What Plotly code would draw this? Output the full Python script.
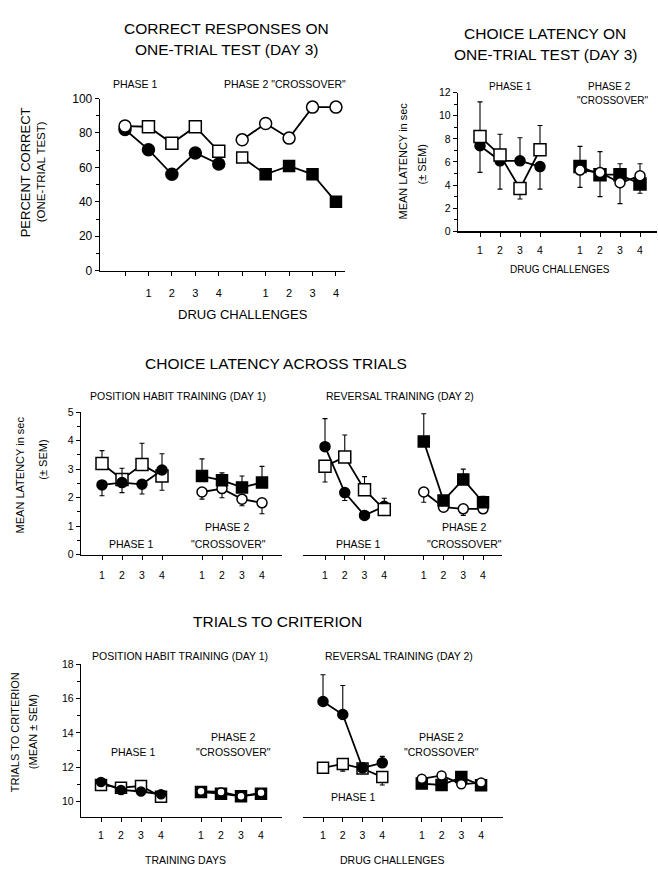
import plotly.graph_objects as go

W, H = 658, 874
FONT = "Liberation Sans, Arial, sans-serif"

# ---------------- DATA ----------------
# Panel A: correct responses on one-trial test (%) ; position 0 / 5 = pre-drug baseline
A_X1 = [0, 1, 2, 3, 4]
A_X2 = [5, 6, 7, 8, 9]
A_P1_SQUARE = [84, 83.6, 74, 83.6, 69.3]
A_P1_CIRCLE = [82, 70.3, 56, 68.4, 62]
A_P2_CIRCLE = [76, 85.5, 77, 95, 95]
A_P2_SQUARE = [65.7, 56, 60.8, 56, 40]
A_TICKVALS = [0, 1, 2, 3, 4, 5, 6, 7, 8, 9]
A_TICKTEXT = ["", "1", "2", "3", "4", "", "1", "2", "3", "4"]

# Panels B-F: drug challenge / training day positions
X1 = [1, 2, 3, 4]
X2 = [6, 7, 8, 9]
TICKVALS = [1, 2, 3, 4, 6, 7, 8, 9]
TICKTEXT = ["1", "2", "3", "4", "1", "2", "3", "4"]

# Panel B: choice latency on one-trial test (sec)
B_P1_SQUARE = [8.2, 6.6, 3.7, 7.06]
B_P1_SQUARE_UP = [3.0, 1.8, 0, 2.1]
B_P1_SQUARE_DN = [0, 0, 0.9, 0]
B_P1_CIRCLE = [7.4, 6.1, 6.1, 5.6]
B_P1_CIRCLE_UP = [0, 0, 2.0, 0]
B_P1_CIRCLE_DN = [2.3, 2.45, 0, 1.95]
B_P2_SQUARE = [5.6, 4.9, 4.9, 4.1]
B_P2_SQUARE_UP = [1.75, 0, 0.95, 0]
B_P2_SQUARE_DN = [0, 1.9, 0, 0.8]
B_P2_CIRCLE = [5.3, 5.1, 4.2, 4.8]
B_P2_CIRCLE_UP = [0, 1.8, 0, 1.05]
B_P2_CIRCLE_DN = [1.5, 0, 1.8, 0]

# Panel C: choice latency across trials, position habit training (day 1)
C_P1_SQUARE = [3.2, 2.64, 3.16, 2.76]
C_P1_SQUARE_UP = [0.45, 0, 0.75, 0]
C_P1_SQUARE_DN = [0, 0, 0, 0.5]
C_P1_CIRCLE = [2.45, 2.53, 2.47, 2.97]
C_P1_CIRCLE_UP = [0, 0.5, 0, 0.57]
C_P1_CIRCLE_DN = [0.38, 0.35, 0.34, 0]
C_P2_SQUARE = [2.76, 2.61, 2.36, 2.53]
C_P2_SQUARE_UP = [0.6, 0.26, 0.4, 0.57]
C_P2_CIRCLE = [2.2, 2.32, 1.95, 1.82]
C_P2_CIRCLE_DN = [0.25, 0.32, 0.23, 0.38]

# Panel D: choice latency across trials, reversal training (day 2)
D_P1_CIRCLE = [3.79, 2.18, 1.38, 1.7]
D_P1_CIRCLE_UP = [0.98, 0, 0, 0.28]
D_P1_CIRCLE_DN = [0, 0.28, 0, 0]
D_P1_SQUARE = [3.1, 3.43, 2.28, 1.59]
D_P1_SQUARE_UP = [0, 0.77, 0.46, 0]
D_P1_SQUARE_DN = [0.55, 0, 0, 0.1]
D_P2_SQUARE = [3.97, 1.9, 2.64, 1.84]
D_P2_SQUARE_UP = [0.97, 0.17, 0.36, 0.21]
D_P2_CIRCLE = [2.2, 1.67, 1.61, 1.61]
D_P2_CIRCLE_DN = [0.36, 0, 0.23, 0]

# Panel E: trials to criterion, position habit training (day 1)
E_P1_SQUARE = [10.96, 10.8, 10.9, 10.27]
E_P1_CIRCLE = [11.13, 10.67, 10.58, 10.42]
E_P2_SQUARE = [10.55, 10.45, 10.3, 10.45]
E_P2_CIRCLE = [10.6, 10.55, 10.3, 10.5]

# Panel F: trials to criterion, reversal training (day 2)
F_P1_CIRCLE = [15.83, 15.07, 11.96, 12.25]
F_P1_CIRCLE_UP = [1.56, 1.69, 0, 0.38]
F_P1_SQUARE = [11.96, 12.19, 11.92, 11.42]
F_P1_SQUARE_DN = [0, 0.42, 0.2, 0.46]
F_P2_CIRCLE = [11.32, 11.52, 11.0, 11.1]
F_P2_SQUARE = [11.04, 10.96, 11.42, 10.94]


# ---------------- HELPERS ----------------
def xd(a, b):
    return [a / W, b / W]


def yd(top, bottom):
    return [1 - bottom / H, 1 - top / H]


fig = go.Figure()


def series(ax, x, y, symbol, filled, size=11, up=None, dn=None, colors=None, symbols=None):
    n = len(y)
    col = colors if colors is not None else ("black" if filled else "white")
    sym = symbols if symbols is not None else symbol
    err = None
    if up is not None or dn is not None:
        err = dict(type="data", symmetric=False,
                   array=up if up is not None else [0] * n,
                   arrayminus=dn if dn is not None else [0] * n,
                   color="black", thickness=1.1, width=2.5)
    fig.add_trace(go.Scatter(
        x=x, y=y, xaxis="x" + ax, yaxis="y" + ax, mode="lines+markers",
        line=dict(color="black", width=1.8),
        marker=dict(symbol=sym, size=size, color=col, line=dict(color="black", width=1.5)),
        error_y=err, showlegend=False, hoverinfo="skip", cliponaxis=False))


# Panel A
series("", A_X1, A_P1_CIRCLE, "circle", True, size=12)
series("", A_X1, A_P1_SQUARE, "square", False, size=12,
       symbols=["circle", "square", "square", "square", "square"])
series("", A_X2, A_P2_SQUARE, "square", True, size=11,
       colors=["white", "black", "black", "black", "black"])
series("", A_X2, A_P2_CIRCLE, "circle", False, size=12)

# Panel B
series("2", X1, B_P1_CIRCLE, "circle", True, size=10, up=B_P1_CIRCLE_UP, dn=B_P1_CIRCLE_DN)
series("2", X1, B_P1_SQUARE, "square", False, size=12, up=B_P1_SQUARE_UP, dn=B_P1_SQUARE_DN)
series("2", X2, B_P2_SQUARE, "square", True, size=12, up=B_P2_SQUARE_UP, dn=B_P2_SQUARE_DN)
series("2", X2, B_P2_CIRCLE, "circle", False, size=10, up=B_P2_CIRCLE_UP, dn=B_P2_CIRCLE_DN)

# Panel C
series("3", X1, C_P1_SQUARE, "square", False, size=12, up=C_P1_SQUARE_UP, dn=C_P1_SQUARE_DN)
series("3", X1, C_P1_CIRCLE, "circle", True, size=10, up=C_P1_CIRCLE_UP, dn=C_P1_CIRCLE_DN)
series("3", X2, C_P2_CIRCLE, "circle", False, size=10, dn=C_P2_CIRCLE_DN)
series("3", X2, C_P2_SQUARE, "square", True, size=11, up=C_P2_SQUARE_UP)

# Panel D
series("4", X1, D_P1_CIRCLE, "circle", True, size=10, up=D_P1_CIRCLE_UP, dn=D_P1_CIRCLE_DN)
series("4", X1, D_P1_SQUARE, "square", False, size=12, up=D_P1_SQUARE_UP, dn=D_P1_SQUARE_DN)
series("4", X2, D_P2_CIRCLE, "circle", False, size=10, dn=D_P2_CIRCLE_DN)
series("4", X2, D_P2_SQUARE, "square", True, size=11, up=D_P2_SQUARE_UP)

# Panel E
series("5", X1, E_P1_SQUARE, "square", False, size=11, up=[0.1] * 4, dn=[0.1] * 4)
series("5", X1, E_P1_CIRCLE, "circle", True, size=9, up=[0.1] * 4)
series("5", X2, E_P2_SQUARE, "square", True, size=11)
series("5", X2, E_P2_CIRCLE, "circle", False, size=8)

# Panel F
series("6", X1, F_P1_SQUARE, "square", False, size=11, dn=F_P1_SQUARE_DN)
series("6", X1, F_P1_CIRCLE, "circle", True, size=10, up=F_P1_CIRCLE_UP)
series("6", X2, F_P2_SQUARE, "square", True, size=11)
series("6", X2, F_P2_CIRCLE, "circle", False, size=9)


# ---------------- AXES ----------------
def xaxis(dom, rng, tv, tt, fs=10.5, standoff=6):
    return dict(domain=xd(*dom), range=rng, tickvals=tv, ticktext=tt, showline=True,
                linecolor="black", linewidth=1.3, ticks="outside", ticklen=4, tickwidth=1,
                tickcolor="black", showgrid=False, zeroline=False, fixedrange=True,
                ticklabelstandoff=standoff,
                tickfont=dict(family=FONT, size=fs, color="black"))


def yaxis(anchor, dom, rng, dtick, minor, fs=10.5, visible=True):
    return dict(domain=yd(*dom), range=rng, anchor=anchor, dtick=dtick, tick0=0,
                showline=True, linecolor="black", linewidth=1.3, ticks="outside",
                ticklen=4, tickwidth=1, tickcolor="black", showgrid=False,
                zeroline=False, fixedrange=True, visible=visible,
                minor=dict(dtick=minor, ticks="outside", ticklen=2.5, tickcolor="black"),
                tickfont=dict(family=FONT, size=fs, color="black"))


layout = dict(
    width=W, height=H, margin=dict(l=0, r=0, t=0, b=0),
    paper_bgcolor="white", plot_bgcolor="white", showlegend=False,
    font=dict(family=FONT, color="black"),
    xaxis=xaxis((100, 345), [-1.067, 9.386], A_TICKVALS, A_TICKTEXT, fs=11, standoff=8),
    yaxis=yaxis("x", (93, 268), [0, 100], 20, 10, fs=12),
    xaxis2=xaxis((458, 657), [-0.1, 9.85], TICKVALS, TICKTEXT, fs=10.5, standoff=5),
    yaxis2=yaxis("x2", (87, 228), [0, 12], 2, 1),
    xaxis3=xaxis((81, 282), [-0.05, 10], TICKVALS, TICKTEXT, fs=10.5, standoff=6),
    yaxis3=yaxis("x3", (411.7, 556.7), [0, 5], 1, 0.5),
    xaxis4=xaxis((303, 502), [-0.114, 9.96], TICKVALS, TICKTEXT, fs=10.5, standoff=6),
    yaxis4=yaxis("x4", (376.9, 556.7), [0, 6.2], 1, 0.5, visible=False),
    xaxis5=xaxis((81, 282), [0.0, 10.05], TICKVALS, TICKTEXT, fs=10.5, standoff=5),
    yaxis5=yaxis("x5", (668, 822.7), [9.12, 18], 2, 1),
    xaxis6=xaxis((303, 503), [-0.013, 10.11], TICKVALS, TICKTEXT, fs=10.5, standoff=5),
    yaxis6=yaxis("x6", (668, 822.7), [9.12, 18], 2, 1, visible=False),
)
layout["xaxis"]["anchor"] = "y"
for i in range(2, 7):
    layout["xaxis%d" % i]["anchor"] = "y%d" % i
fig.update_layout(**layout)

# ---------------- TEXT ----------------
ann = []


def text(s, px, py, size=10.5, angle=0):
    ann.append(dict(text=s, x=px / W, y=1 - py / H, xref="paper", yref="paper",
                    showarrow=False, xanchor="center", yanchor="middle", textangle=angle,
                    font=dict(family=FONT, size=size, color="black")))


# Panel A
text("CORRECT RESPONSES ON", 226, 22, 15.5)
text("ONE-TRIAL TEST (DAY 3)", 226, 43, 15.5)
text("PHASE 1", 135, 78, 10.5)
text('PHASE 2 "CROSSOVER"', 285, 78, 10.5)
text("DRUG CHALLENGES", 243, 313, 13)
text("PERCENT CORRECT", 25, 168, 13, -90)
text("(ONE-TRIAL TEST)", 41, 168, 11.5, -90)

# Panel B
text("CHOICE LATENCY ON", 545, 27, 15.5)
text("ONE-TRIAL TEST (DAY 3)", 545, 48, 15.5)
text("PHASE 1", 510, 81, 10)
text("PHASE 2", 609, 81, 10)
text('"CROSSOVER"', 612, 95, 10)
text("DRUG CHALLENGES", 560, 267, 10)
text("MEAN LATENCY in sec", 403, 157, 11, -90)
text("(± SEM)", 422, 160, 11, -90)

# Panels C / D
text("CHOICE LATENCY ACROSS TRIALS", 276, 362, 15.5)
text("POSITION HABIT TRAINING (DAY 1)", 178, 395, 10.5)
text("REVERSAL TRAINING (DAY 2)", 400, 395, 10.5)
text("PHASE 1", 131, 546, 10.5)
text("PHASE 2", 227, 528, 10.5)
text('"CROSSOVER"', 228, 546, 10.5)
text("PHASE 1", 358, 546, 10.5)
text("PHASE 2", 464, 528, 10.5)
text('"CROSSOVER"', 464, 546, 10.5)
text("MEAN LATENCY in sec", 20, 476, 11, -90)
text("(± SEM)", 43, 460, 11, -90)

# Panels E / F
text("TRIALS TO CRITERION", 277, 625, 15.5)
text("POSITION HABIT TRAINING (DAY 1)", 180, 660, 10.5)
text("REVERSAL TRAINING (DAY 2)", 399, 660, 10.5)
text("PHASE 1", 133, 757, 10.5)
text("PHASE 2", 233, 742, 10.5)
text('"CROSSOVER"', 233, 757, 10.5)
text("PHASE 2", 442, 742, 10.5)
text('"CROSSOVER"', 442, 757, 10.5)
text("PHASE 1", 353, 803, 10.5)
text("TRAINING DAYS", 185, 867, 10.5)
text("DRUG CHALLENGES", 392, 867, 10.5)
text("TRIALS TO CRITERION", 15, 737, 11, -90)
text("(MEAN ± SEM)", 33, 737, 11, -90)

fig.update_layout(annotations=ann)
fig.write_html("out.html", config={"displayModeBar": False, "staticPlot": True},
               post_script="document.body.style.margin='0';document.body.style.padding='0';")
